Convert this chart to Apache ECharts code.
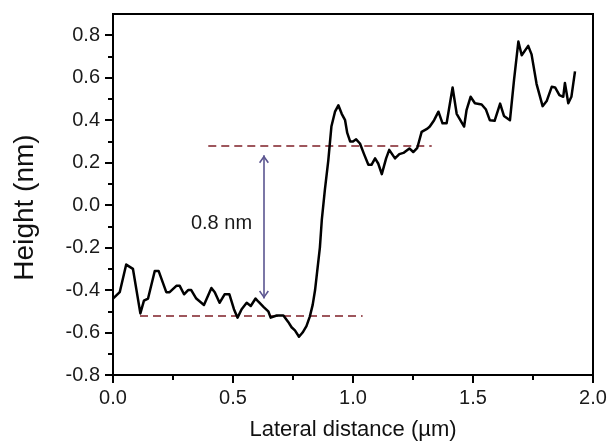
<!DOCTYPE html>
<html>
<head>
<meta charset="utf-8">
<title>Height profile</title>
<script src="https://cdn.jsdelivr.net/npm/echarts@6/dist/echarts.min.js"></script>
<style>
  html, body { margin: 0; padding: 0; background: #fff; }
  #chart { width: 611px; height: 443px; }
</style>
</head>
<body>
<div id="chart"></div>
<script>
// Lateral position along the scan line (µm)
const lateral = [
  0.000, 0.028, 0.055, 0.083, 0.114, 0.129, 0.146, 0.174, 0.190, 0.222,
  0.236, 0.264, 0.278, 0.296, 0.313, 0.326, 0.347, 0.379, 0.410, 0.424,
  0.444, 0.465, 0.485, 0.504, 0.519, 0.536, 0.557, 0.574, 0.594, 0.606,
  0.628, 0.647, 0.657, 0.682, 0.710, 0.730, 0.744, 0.758, 0.775, 0.790,
  0.806, 0.820, 0.832, 0.842, 0.851, 0.862, 0.870, 0.883, 0.897, 0.910,
  0.925, 0.939, 0.953, 0.967, 0.976, 0.988, 1.000, 1.013, 1.029, 1.046,
  1.064, 1.077, 1.092, 1.105, 1.120, 1.138, 1.151, 1.175, 1.193, 1.210,
  1.235, 1.251, 1.268, 1.286, 1.310, 1.320, 1.338, 1.356, 1.373, 1.390,
  1.404, 1.415, 1.432, 1.463, 1.473, 1.490, 1.508, 1.536, 1.554, 1.570,
  1.590, 1.613, 1.629, 1.654, 1.671, 1.689, 1.703, 1.730, 1.744, 1.765,
  1.790, 1.807, 1.828, 1.842, 1.860, 1.876, 1.883, 1.897, 1.910, 1.925
];

// Measured height at each position (nm)
const height = [
  -0.44, -0.41, -0.28, -0.30, -0.51, -0.45, -0.44, -0.31, -0.31, -0.41,
  -0.41, -0.38, -0.38, -0.42, -0.40, -0.40, -0.44, -0.47, -0.39, -0.41,
  -0.46, -0.42, -0.42, -0.49, -0.53, -0.49, -0.46, -0.475, -0.44, -0.455,
  -0.48, -0.50, -0.53, -0.52, -0.52, -0.55, -0.575, -0.59, -0.62, -0.60,
  -0.57, -0.525, -0.47, -0.40, -0.31, -0.20, -0.07, 0.074, 0.21, 0.37,
  0.44, 0.47, 0.43, 0.40, 0.34, 0.30, 0.30, 0.31, 0.29, 0.24,
  0.19, 0.19, 0.22, 0.196, 0.146, 0.22, 0.26, 0.22, 0.24, 0.246,
  0.267, 0.25, 0.27, 0.345, 0.36, 0.37, 0.40, 0.44, 0.385, 0.385,
  0.48, 0.554, 0.43, 0.37, 0.447, 0.51, 0.48, 0.474, 0.45, 0.40,
  0.397, 0.478, 0.42, 0.40, 0.59, 0.77, 0.706, 0.75, 0.71, 0.57,
  0.466, 0.49, 0.557, 0.554, 0.518, 0.51, 0.575, 0.48, 0.51, 0.63
];

// Terrace levels (nm) and the x-span of each guide line (µm)
const upperLevel = 0.28;
const lowerLevel = -0.52;
const upperSpan = [0.397, 1.328];
const lowerSpan = [0.1125, 1.04];

// Step-height arrow: x position and the heights of its two tips
const arrowX = 0.629;
const arrowTips = [0.235, -0.44];
const stepLabelAt = [0.452, -0.085];

// Axis ticks
const xTicks = [0, 0.5, 1.0, 1.5, 2.0];
const xMinorTicks = [0.25, 0.75, 1.25, 1.75];
const yTicks = [-0.8, -0.6, -0.4, -0.2, 0.0, 0.2, 0.4, 0.6, 0.8];
const yMinorTicks = [-0.7, -0.5, -0.3, -0.1, 0.1, 0.3, 0.5, 0.7];
const xRange = [0, 2];
const yRange = [-0.8, 0.9];

const FONT = 'Liberation Sans, Arial, Helvetica, sans-serif';
const profile = lateral.map((x, i) => [x, height[i]]);
const stepHeight = (upperLevel - lowerLevel).toFixed(1);

// open chevron used for both ends of the arrow (tip at the top)
const chevron = 'path://M10,0 L20,15 L17.4,16.8 L10,5.6 L2.6,16.8 L0,15 Z';
const headSize = [10, 8];
// shift each head by half its height so the tip lands on the end point
const headShift = [[0, headSize[1] / 2], [0, headSize[1] / 2]];

const chart = echarts.init(document.getElementById('chart'), null, { renderer: 'canvas' });

const guideStyle = { color: '#9e565c', width: 2, type: [8, 5] };
const arrowColor = '#5b5590';

function majorAxisBase(range, ticks) {
  return {
    type: 'value',
    min: range[0],
    max: range[1],
    axisLine: { show: true, onZero: false, lineStyle: { color: '#000', width: 2 } },
    axisTick: { show: true, inside: false, length: 8, customValues: ticks,
                lineStyle: { color: '#000', width: 2 } },
    axisLabel: { show: true, customValues: ticks, formatter: v => Number(v).toFixed(1),
                 color: '#1a1a1a', fontSize: 20, fontFamily: FONT, margin: 13 },
    splitLine: { show: false },
    minorTick: { show: false },
    minorSplitLine: { show: false }
  };
}

// A second axis on the same side carrying the shorter minor ticks
function minorAxisBase(range, ticks, position) {
  return {
    type: 'value',
    min: range[0],
    max: range[1],
    position: position,
    offset: 0,
    axisLine: { show: true, onZero: false, lineStyle: { color: '#000', width: 2 } },
    axisTick: { show: true, inside: false, length: 5, customValues: ticks,
                lineStyle: { color: '#000', width: 2 } },
    axisLabel: { show: false, customValues: ticks },
    splitLine: { show: false },
    minorTick: { show: false }
  };
}

const option = {
  backgroundColor: '#fff',
  animation: false,
  grid: {
    left: 113, right: 18, top: 14, bottom: 68,
    show: true, borderColor: '#000', borderWidth: 2,
    outerBoundsMode: 'none', containLabel: false
  },
  xAxis: [
    Object.assign(majorAxisBase(xRange, xTicks), {
      position: 'bottom',
      name: 'Lateral distance (µm)',
      nameLocation: 'middle',
      nameGap: 44,
      nameTextStyle: { color: '#111', fontSize: 22, fontFamily: FONT }
    }),
    minorAxisBase(xRange, xMinorTicks, 'bottom')
  ],
  yAxis: [
    Object.assign(majorAxisBase(yRange, yTicks), {
      position: 'left',
      name: 'Height (nm)',
      nameLocation: 'middle',
      nameGap: 74,
      nameTextStyle: { color: '#111', fontSize: 28, fontFamily: FONT, padding: [0, 26, 0, 0] }
    }),
    minorAxisBase(yRange, yMinorTicks, 'left')
  ],
  series: [
    {
      name: 'profile',
      type: 'line',
      xAxisIndex: 0,
      yAxisIndex: 0,
      data: profile,
      showSymbol: false,
      symbol: 'none',
      lineStyle: { color: '#000', width: 2.5, join: 'round' },
      z: 5,
      markLine: {
        silent: true,
        symbol: 'none',
        label: { show: false },
        lineStyle: guideStyle,
        z: 3,
        data: [
          [{ coord: [upperSpan[0], upperLevel] }, { coord: [upperSpan[1], upperLevel] }],
          [{ coord: [lowerSpan[0], lowerLevel] }, { coord: [lowerSpan[1], lowerLevel] }]
        ]
      }
    },
    {
      name: 'step',
      type: 'line',
      xAxisIndex: 1,
      yAxisIndex: 1,
      data: [],
      showSymbol: false,
      markLine: {
        silent: true,
        symbol: [chevron, chevron],
        symbolSize: headSize,
        symbolOffset: headShift,
        label: { show: false },
        lineStyle: { color: arrowColor, width: 1.6, type: 'solid' },
        data: [
          [{ coord: [arrowX, arrowTips[0]] }, { coord: [arrowX, arrowTips[1]] }]
        ]
      },
      markPoint: {
        silent: true,
        symbol: 'circle',
        symbolSize: 0,
        label: {
          show: true,
          position: 'inside',
          formatter: stepHeight + ' nm',
          color: '#1a1a1a',
          fontSize: 20,
          fontFamily: FONT
        },
        data: [{ coord: stepLabelAt }]
      }
    }
  ]
};

chart.setOption(option);
</script>
</body>
</html>
